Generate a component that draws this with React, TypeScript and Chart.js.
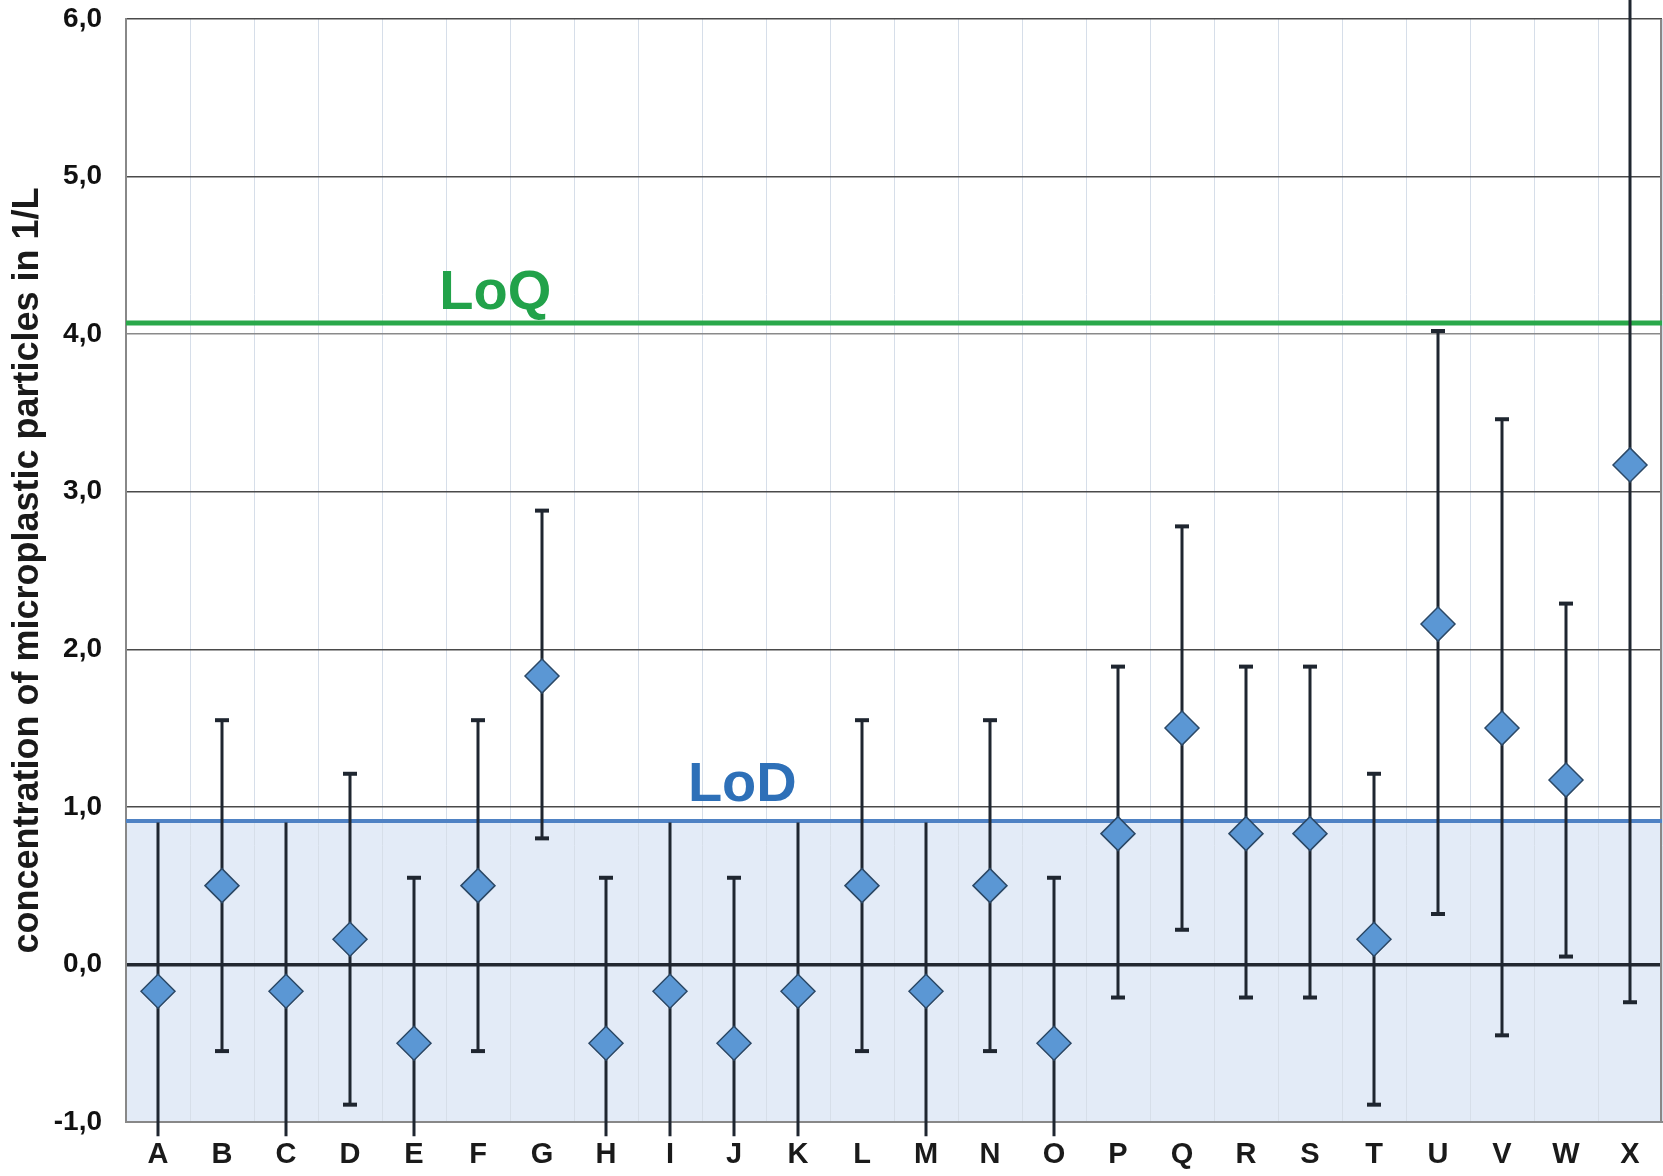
import React, { useEffect, useRef } from "react";
import { Chart, registerables } from "chart.js";

Chart.register(...registerables);

const categories = ["A","B","C","D","E","F","G","H","I","J","K","L","M","N","O","P","Q","R","S","T","U","V","W","X"];
const values = [-0.17, 0.5, -0.17, 0.16, -0.5, 0.5, 1.83, -0.5, -0.17, -0.5, -0.17, 0.5, -0.17, 0.5, -0.5, 0.83, 1.5, 0.83, 0.83, 0.16, 2.16, 1.5, 1.17, 3.17];
const upper = [0.9, 1.55, 0.9, 1.21, 0.55, 1.55, 2.88, 0.55, 0.9, 0.55, 0.9, 1.55, 0.9, 1.55, 0.55, 1.89, 2.78, 1.89, 1.89, 1.21, 4.02, 3.46, 2.29, 6.2];
const lower = [-1.09, -0.55, -1.09, -0.89, -1.09, -0.55, 0.8, -1.09, -1.09, -1.09, -1.09, -0.55, -1.09, -0.55, -1.09, -0.21, 0.22, -0.21, -0.21, -0.89, 0.32, -0.45, 0.05, -0.24];

const LOQ = 4.07;
const LOD = 0.91;
const refLabels = ["LoQ", "LoD"];
const refLabelIndex = [5.27, 9.13];
const refLabelValue = [4.16, 1.04];
const refColors = ["#22a24a", "#2e70b8"];
const yMin = -1;
const yMax = 6;

const FONT = "'Liberation Sans', Arial, sans-serif";

const customPlugin = {
  id: "custom",
  beforeDraw(chart: any) {
    const { ctx, chartArea, scales } = chart;
    const y = scales.y;
    ctx.save();
    ctx.fillStyle = "#e3ebf7";
    const top = y.getPixelForValue(LOD);
    ctx.fillRect(chartArea.left, top, chartArea.right - chartArea.left, chartArea.bottom - top);
    ctx.restore();
  },
  beforeDatasetsDraw(chart: any) {
    const { ctx, chartArea, scales } = chart;
    const x = scales.x;
    const y = scales.y;
    ctx.save();
    ctx.strokeStyle = "#888";
    ctx.lineWidth = 2;
    ctx.beginPath();
    ctx.moveTo(chartArea.right - 1, chartArea.top);
    ctx.lineTo(chartArea.right - 1, chartArea.bottom);
    ctx.stroke();
    ctx.strokeStyle = "#2aa84a";
    ctx.lineWidth = 5;
    ctx.beginPath();
    ctx.moveTo(chartArea.left, y.getPixelForValue(LOQ));
    ctx.lineTo(chartArea.right, y.getPixelForValue(LOQ));
    ctx.stroke();
    ctx.strokeStyle = "#4f82c4";
    ctx.lineWidth = 4;
    ctx.beginPath();
    ctx.moveTo(chartArea.left, y.getPixelForValue(LOD));
    ctx.lineTo(chartArea.right, y.getPixelForValue(LOD));
    ctx.stroke();
    ctx.font = `bold 56px ${FONT}`;
    ctx.textAlign = "center";
    ctx.textBaseline = "alphabetic";
    refLabels.forEach((t, i) => {
      ctx.fillStyle = refColors[i];
      ctx.fillText(t, x.getPixelForValue(refLabelIndex[i]), y.getPixelForValue(refLabelValue[i]));
    });
    ctx.strokeStyle = "#1f2630";
    values.forEach((v, i) => {
      const px = x.getPixelForValue(i);
      const pHi = y.getPixelForValue(upper[i]);
      const pLo = y.getPixelForValue(lower[i]);
      ctx.lineWidth = 3;
      ctx.beginPath();
      ctx.moveTo(px, pHi);
      ctx.lineTo(px, pLo);
      ctx.stroke();
      ctx.lineWidth = 4;
      [upper[i], lower[i]].forEach((b) => {
        if (b > yMin && b < yMax && Math.abs(b - LOD) > 0.02) {
          const pb = y.getPixelForValue(b);
          ctx.beginPath();
          ctx.moveTo(px - 7, pb);
          ctx.lineTo(px + 7, pb);
          ctx.stroke();
        }
      });
    });
    ctx.restore();
  },
};

export default function App() {
  const ref = useRef<HTMLCanvasElement | null>(null);
  useEffect(() => {
    document.body.style.margin = "0";
    document.body.style.overflow = "hidden";
    if (!ref.current) return;
    const chart = new Chart(ref.current, {
      type: "line",
      data: {
        labels: categories,
        datasets: [
          {
            data: values,
            showLine: false,
            pointStyle: "rectRot",
            pointRadius: 17,
            pointHoverRadius: 17,
            pointBackgroundColor: "#5b97d4",
            pointBorderColor: "#2b4866",
            pointBorderWidth: 1.5,
          },
        ],
      },
      options: {
        animation: false,
        responsive: true,
        maintainAspectRatio: false,
        layout: { autoPadding: false, padding: { top: 19, right: 1, left: 0, bottom: 0 } },
        plugins: { legend: { display: false }, tooltip: { enabled: false } },
        scales: {
          x: {
            offset: true,
            grid: { offset: true, color: "#d6dee9", lineWidth: 1, drawTicks: false },
            border: { display: true, color: "#888", width: 2 },
            ticks: {
              color: "#1a1a1a",
              font: { family: FONT, size: 29, weight: "bold" },
              padding: 16,
              autoSkip: false,
              maxRotation: 0,
            },
            afterFit: (s: any) => {
              s.height = 54;
              s.paddingLeft = 0;
              s.paddingRight = 0;
            },
          },
          y: {
            min: yMin,
            max: yMax,
            ticks: {
              stepSize: 1,
              color: "#111",
              font: { family: FONT, size: 28, weight: "bold" },
              padding: 24,
              callback: (v: any) => Number(v).toFixed(1).replace(".", ","),
            },
            grid: {
              drawTicks: false,
              color: (c: any) => (c.tick && c.tick.value === 0 ? "#222831" : c.tick && c.tick.value === 4 ? "#8a8a8a" : "#4a4a4a"),
              lineWidth: (c: any) => (c.tick && c.tick.value === 0 ? 3.5 : 1.5),
            },
            border: { display: true, color: "#888", width: 2 },
            title: {
              display: true,
              text: "concentration of microplastic particles in 1/L",
              color: "#1a1a1a",
              font: { family: FONT, size: 36, weight: "bold" },
              padding: { top: 6, bottom: 0 },
            },
            afterFit: (s: any) => {
              s.width = 126;
              s.paddingTop = 0;
              s.paddingBottom = 0;
            },
          },
        },
      },
      plugins: [customPlugin],
    });
    return () => chart.destroy();
  }, []);
  return (
    <div style={{ width: 1663, height: 1176, position: "relative", overflow: "hidden", background: "#fff" }}>
      <canvas ref={ref} style={{ display: "block" }} />
    </div>
  );
}
